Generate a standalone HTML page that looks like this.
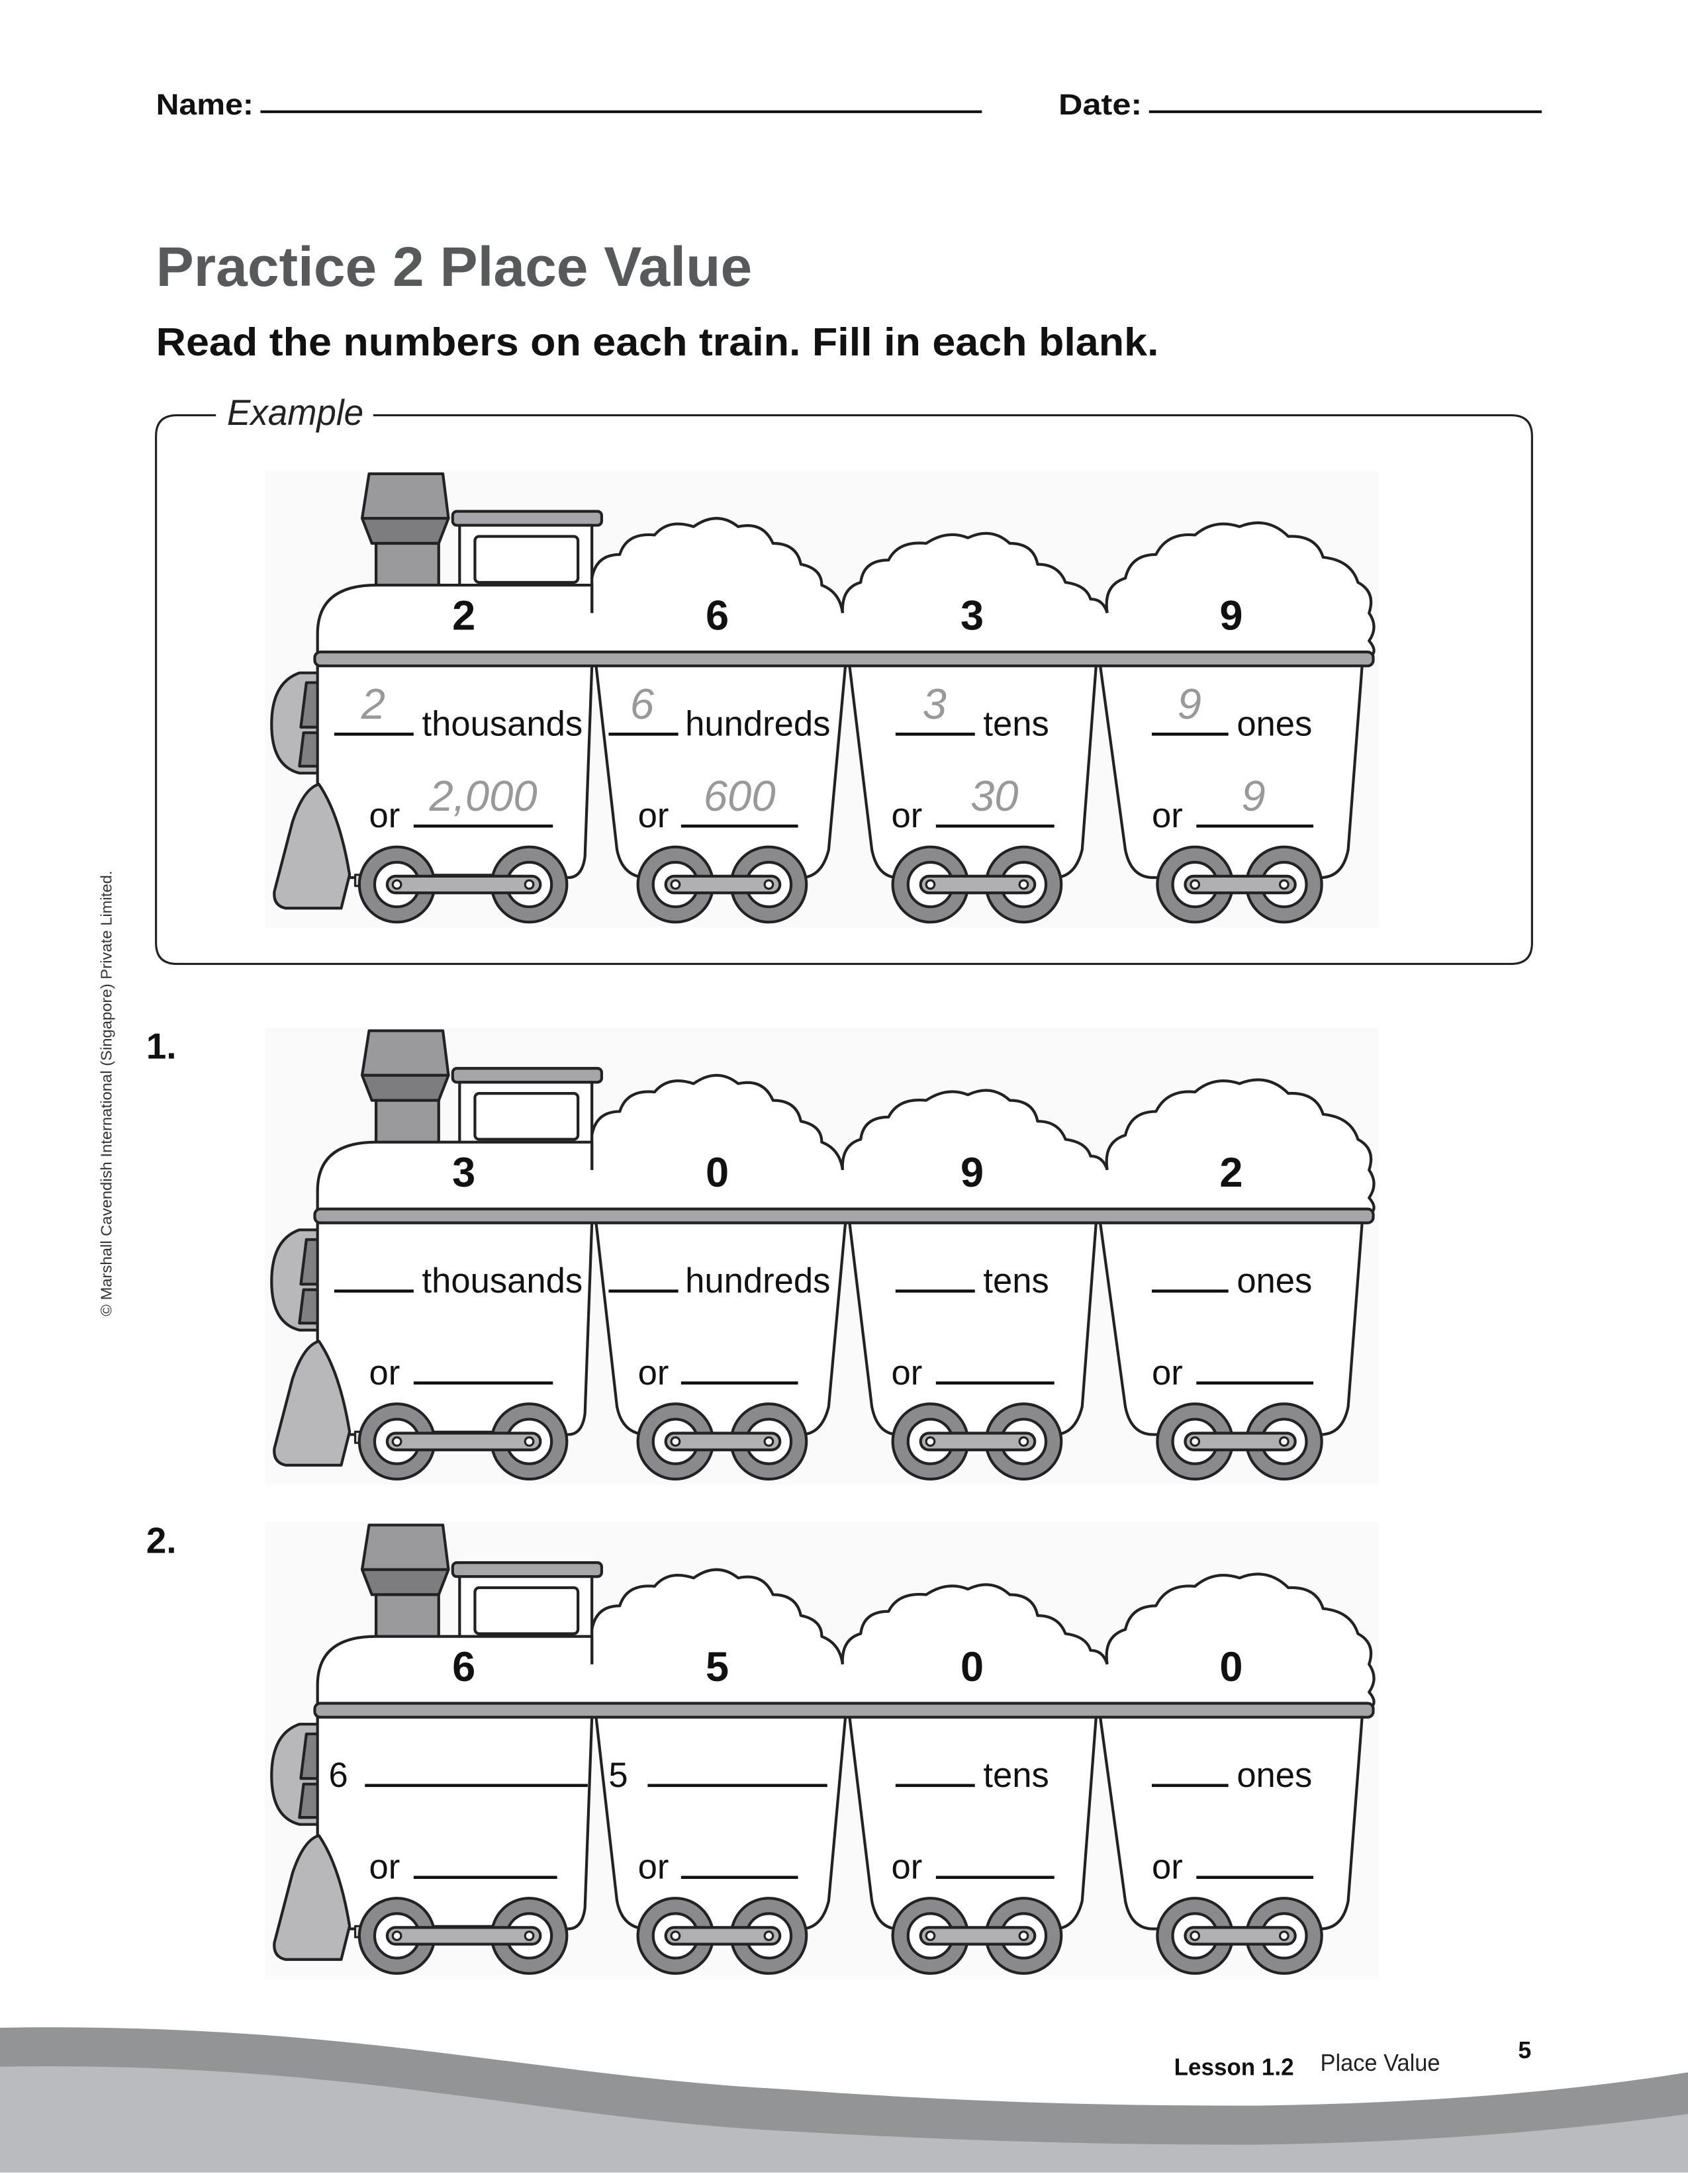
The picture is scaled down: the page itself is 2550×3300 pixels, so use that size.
<!DOCTYPE html>
<html><head><meta charset="utf-8"><style>html,body{margin:0;padding:0;background:#fff}svg{display:block}</style></head>
<body>
<svg width="2550" height="3300" viewBox="0 0 1212 1568" xmlns="http://www.w3.org/2000/svg" font-family="Liberation Sans, sans-serif">
<defs>
<g id="wheel">
<circle r="27" fill="#8a8a8c" stroke="#222" stroke-width="2"/>
<circle r="16" fill="#fff" stroke="#222" stroke-width="2"/>
</g>
<g id="train" stroke="#222" stroke-width="2" stroke-linejoin="round">
<rect x="190" y="338" width="800" height="328" fill="#fafafa" stroke="none"/>
<!-- chimney -->
<path d="M265,340 L318,340 L322,372 L260,372 Z" fill="#9a9a9c"/>
<path d="M260,372 L322,372 L315,390 L267,390 Z" fill="#7d7d80"/>
<rect x="270" y="390" width="45" height="32" fill="#9a9a9c"/>
<!-- cab -->
<rect x="325" y="367" width="107" height="10" rx="3" fill="#a6a6a8"/>
<rect x="330" y="377" width="95" height="45" fill="#fff"/>
<rect x="341" y="385" width="74" height="33" rx="3" fill="#fff"/>
<!-- body fill -->
<rect x="228" y="436" width="755" height="36" fill="#fff" stroke="none"/>
<!-- clouds (open paths) -->
<path d="M425,440 L425,415 Q428,398 445,398 Q450,382 470,384 Q480,372 498,378 Q515,366 530,378 Q548,374 555,390 Q572,390 575,405 Q590,408 590,420 Q603,425 605,440" fill="#fff"/>
<path d="M605,440 Q604,422 618,418 Q620,402 638,402 Q645,388 665,390 Q680,380 695,386 Q712,378 725,390 Q742,390 745,405 Q760,405 765,418 Q780,420 783,430 Q792,430 795,440" fill="#fff"/>
<path d="M795,440 Q792,420 808,415 Q812,398 830,398 Q838,382 858,384 Q872,372 890,378 Q910,370 925,385 Q945,384 950,400 Q970,402 975,418 Q988,425 983,440 Q990,450 983,460 Q990,468 983,472" fill="#fff"/>
<!-- boiler -->
<path d="M228,475 L228,455 Q228,420 270,420 L425,420 L425,440" fill="#fff"/>
<!-- rail -->
<rect x="226" y="468" width="760" height="10" rx="4" fill="#a6a6a8"/>
<!-- headlight -->
<path d="M230,483 L215,483 Q195,490 195,520 Q195,550 215,555 L230,555 Z" fill="#b8b8ba"/>
<path d="M230,490 L220,490 L216,522 L230,522 Z M230,526 L218,526 L215,550 L230,550 Z" fill="#808083"/>
<!-- cars -->
<path d="M228,478 L425,478 L420,615 Q418,630 408,630 L228,630 Z" fill="#fff"/>
<path d="M428,478 L607,478 L595,610 Q590,630 575,630 L465,630 Q447,630 443,610 Z" fill="#fff"/>
<path d="M610,478 L787,478 L777,610 Q772,630 757,630 L645,630 Q630,630 626,610 Z" fill="#fff"/>
<path d="M790,478 L978,478 L968,610 Q964,630 948,630 L828,630 Q812,630 808,610 Z" fill="#fff"/>
<!-- cowcatcher -->
<path d="M229,563 Q218,566 210,590 L197,640 Q196,650 205,652 L245,652 L251,628 Q244,585 229,563 Z" fill="#b8b8ba"/>
<!-- wheels -->
<rect x="255" y="628" width="145" height="8" fill="#ddd" stroke-width="1.5"/>
<use href="#wheel" x="285" y="635"/><use href="#wheel" x="380" y="635"/>
<use href="#wheel" x="485" y="635"/><use href="#wheel" x="552" y="635"/>
<use href="#wheel" x="668" y="635"/><use href="#wheel" x="735" y="635"/>
<use href="#wheel" x="858" y="635"/><use href="#wheel" x="922" y="635"/>
<g fill="#b0b0b2">
<rect x="278" y="629" width="110" height="12" rx="6"/>
<rect x="478" y="629" width="82" height="12" rx="6"/>
<rect x="661" y="629" width="82" height="12" rx="6"/>
<rect x="851" y="629" width="79" height="12" rx="6"/>
</g>
<g fill="#fff" stroke-width="1.5">
<circle cx="285" cy="635" r="3"/><circle cx="380" cy="635" r="3"/>
<circle cx="485" cy="635" r="3"/><circle cx="552" cy="635" r="3"/>
<circle cx="668" cy="635" r="3"/><circle cx="735" cy="635" r="3"/>
<circle cx="858" cy="635" r="3"/><circle cx="922" cy="635" r="3"/>
</g>
</g>
<g id="labels" font-size="25" fill="#111">
<text x="303" y="528">thousands</text>
<text x="492" y="528">hundreds</text>
<text x="706" y="528">tens</text>
<text x="888" y="528">ones</text>
<text x="265" y="594">or</text><text x="458" y="594">or</text>
<text x="640" y="594">or</text><text x="827" y="594">or</text>
<g stroke="#111" stroke-width="2.2">
<line x1="240" y1="527" x2="297" y2="527"/><line x1="437" y1="527" x2="487" y2="527"/>
<line x1="643" y1="527" x2="700" y2="527"/><line x1="827" y1="527" x2="882" y2="527"/>
<line x1="297" y1="593" x2="397" y2="593"/><line x1="489" y1="593" x2="573" y2="593"/>
<line x1="672" y1="593" x2="757" y2="593"/><line x1="859" y1="593" x2="943" y2="593"/>
</g>
</g>
</defs>

<!-- header -->
<text x="112" y="82" font-size="21" font-weight="bold" fill="#111" textLength="70" lengthAdjust="spacingAndGlyphs">Name:</text>
<line x1="187" y1="80" x2="705" y2="80" stroke="#111" stroke-width="2"/>
<text x="760" y="82" font-size="21" font-weight="bold" fill="#111" textLength="60" lengthAdjust="spacingAndGlyphs">Date:</text>
<line x1="825" y1="80" x2="1107" y2="80" stroke="#111" stroke-width="2"/>
<text x="112" y="205" font-size="40" font-weight="bold" fill="#58595b" textLength="428" lengthAdjust="spacingAndGlyphs">Practice  2  Place Value</text>
<text x="112" y="255" font-size="28" font-weight="bold" fill="#111" textLength="720" lengthAdjust="spacingAndGlyphs">Read the numbers on each train. Fill in each blank.</text>

<!-- example box -->
<path d="M155,298 L127,298 Q112,298 112,313 L112,677 Q112,692 127,692 L1085,692 Q1100,692 1100,677 L1100,313 Q1100,298 1085,298 L268,298" fill="none" stroke="#222" stroke-width="1.5"/>
<text x="163" y="305" font-size="26" font-style="italic" fill="#222" textLength="98" lengthAdjust="spacingAndGlyphs">Example</text>

<text x="80" y="785" font-size="11" fill="#333" text-anchor="middle" transform="rotate(-90 80 785)" textLength="320" lengthAdjust="spacingAndGlyphs">© Marshall Cavendish International (Singapore) Private Limited.</text>

<!-- example train -->
<use href="#train"/>
<use href="#labels"/>
<g font-size="30" font-weight="bold" fill="#111" text-anchor="middle">
<text x="333" y="452">2</text><text x="515" y="452">6</text><text x="698" y="452">3</text><text x="884" y="452">9</text>
</g>
<g font-size="31" font-style="italic" fill="#999" text-anchor="middle">
<text x="268" y="516">2</text><text x="461" y="516">6</text><text x="671" y="516">3</text><text x="854" y="516">9</text>
<text x="347" y="582">2,000</text><text x="531" y="582">600</text><text x="714" y="582">30</text><text x="900" y="582">9</text>
</g>

<!-- train 1 -->
<text x="105" y="760" font-size="26" font-weight="bold" fill="#111">1.</text>
<g transform="translate(0,400)">
<use href="#train"/>
<use href="#labels"/>
<g font-size="30" font-weight="bold" fill="#111" text-anchor="middle">
<text x="333" y="452">3</text><text x="515" y="452">0</text><text x="698" y="452">9</text><text x="884" y="452">2</text>
</g>
</g>

<!-- train 2 -->
<text x="105" y="1115" font-size="26" font-weight="bold" fill="#111">2.</text>
<g transform="translate(0,755)">
<use href="#train"/>
<g font-size="30" font-weight="bold" fill="#111" text-anchor="middle">
<text x="333" y="452">6</text><text x="515" y="452">5</text><text x="698" y="452">0</text><text x="884" y="452">0</text>
</g>
<g font-size="25" fill="#111">
<text x="236" y="528">6</text><text x="437" y="528">5</text>
<text x="706" y="528">tens</text><text x="888" y="528">ones</text>
<text x="265" y="594">or</text><text x="458" y="594">or</text>
<text x="640" y="594">or</text><text x="827" y="594">or</text>
</g>
<g stroke="#111" stroke-width="2.2">
<line x1="262" y1="527" x2="422" y2="527"/><line x1="465" y1="527" x2="594" y2="527"/>
<line x1="643" y1="527" x2="700" y2="527"/><line x1="827" y1="527" x2="882" y2="527"/>
<line x1="297" y1="593" x2="400" y2="593"/><line x1="489" y1="593" x2="573" y2="593"/>
<line x1="672" y1="593" x2="757" y2="593"/><line x1="859" y1="593" x2="943" y2="593"/>
</g>
</g>

<!-- footer wave -->
<path d="M0,1456 C250,1452 380,1490 560,1500 C700,1510 800,1512 900,1512 C1050,1510 1150,1498 1212,1488 L1212,1560 L0,1560 Z" fill="#939496"/>
<path d="M0,1484 C250,1480 380,1520 560,1530 C700,1538 800,1540 900,1540 C1050,1538 1150,1526 1212,1518 L1212,1560 L0,1560 Z" fill="#babbbe"/>
<text x="843" y="1490" font-size="17" font-weight="bold" fill="#111" textLength="86" lengthAdjust="spacingAndGlyphs">Lesson 1.2</text>
<text x="948" y="1487" font-size="17" fill="#222" textLength="86" lengthAdjust="spacingAndGlyphs">Place Value</text>
<text x="1090" y="1478" font-size="17" font-weight="bold" fill="#111">5</text>
</svg>
</body></html>
